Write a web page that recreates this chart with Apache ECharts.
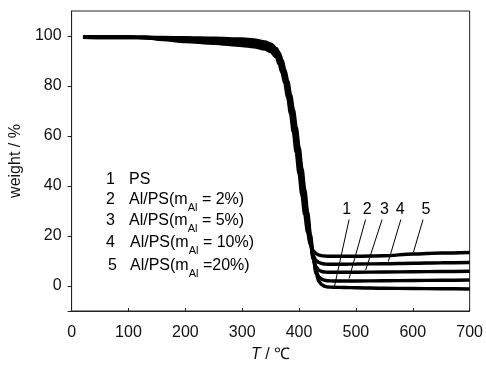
<!DOCTYPE html>
<html>
<head>
<meta charset="utf-8">
<script src="https://cdn.jsdelivr.net/npm/echarts@6/dist/echarts.min.js"></script>
<style>
html,body{margin:0;padding:0;background:#fff;}
#main{width:486px;height:368px;}
</style>
</head>
<body>
<div id="main"></div>
<script>
// Temperatures (°C)
var temps = [20, 60, 100, 130, 160, 200, 250, 300, 320, 340, 350, 360, 365, 370, 375, 380, 385, 390, 395, 400, 405, 410, 415, 420, 425, 430, 435, 440, 445, 450, 460, 480, 500, 550, 600, 650, 700];
// weight / % for each sample
var ps      = [99.6, 99.6, 99.6, 99.5, 99.4, 99.3, 99.1, 98.8, 98.4, 97.6, 96.8, 95.0, 93.2, 90.4, 86.5, 82.0, 76.5, 70.5, 63.5, 55.5, 47.0, 38.5, 29.5, 20.5, 11.5, 5.0, 1.8, 0.5, -0.1, -0.4, -0.5, -0.6, -0.7, -0.9, -1.0, -1.1, -1.2];
var alps2   = [99.6, 99.6, 99.6, 99.5, 99.2, 98.9, 98.5, 98.0, 97.6, 96.9, 96.1, 94.3, 92.2, 89.1, 85.0, 80.3, 74.8, 68.6, 61.5, 53.3, 44.8, 36.3, 27.5, 19.0, 11.0, 5.8, 3.6, 2.7, 2.3, 2.1, 2.0, 2.0, 2.0, 2.1, 2.2, 2.3, 2.4];
var alps5   = [99.6, 99.5, 99.5, 99.4, 99.0, 98.5, 98.0, 97.3, 96.9, 96.1, 95.3, 93.5, 91.1, 87.8, 83.5, 78.6, 72.8, 66.5, 59.3, 51.0, 42.5, 34.0, 25.5, 17.5, 10.8, 7.6, 6.3, 5.8, 5.6, 5.5, 5.5, 5.5, 5.5, 5.6, 5.7, 5.8, 5.9];
var alps10  = [99.5, 99.4, 99.4, 99.3, 98.8, 98.1, 97.5, 96.7, 96.3, 95.4, 94.5, 92.6, 90.0, 86.6, 82.2, 77.0, 70.9, 64.0, 56.4, 48.0, 39.5, 31.2, 23.5, 16.8, 12.0, 10.2, 9.4, 9.0, 8.8, 8.7, 8.7, 8.7, 8.8, 8.9, 9.1, 9.3, 9.4];
var alps20  = [99.5, 99.4, 99.4, 99.3, 98.6, 97.8, 97.1, 96.2, 95.7, 94.8, 93.8, 91.6, 88.8, 85.4, 81.0, 75.5, 69.0, 61.5, 53.5, 45.0, 36.5, 28.5, 21.5, 16.5, 14.0, 12.9, 12.4, 12.1, 12.0, 11.9, 11.9, 11.9, 11.9, 12.1, 12.8, 13.2, 13.4];
var seriesNames = ['1', '2', '3', '4', '5'];
var yTicks = [-10, 0, 20, 40, 60, 80, 100];
var yLabels = [0, 20, 40, 60, 80, 100];
// curve number labels [T, weight]
var numLabelPos = [[484, 30.6], [520, 30.6], [550, 30.6], [578, 30.6], [623, 30.6]];
// leader lines [[T1, w1], [T2, w2]]
var leaders = [
  [[488, 26.6], [462, -0.4]],
  [[517, 26.6], [488, 3.0]],
  [[546, 26.6], [517, 6.3]],
  [[579, 26.6], [557, 9.8]],
  [[618, 26.6], [601, 13.4]]
];
var legendRows = [
  ['1', 'PS', ''],
  ['2', 'Al/PS(m', ' = 2%)'],
  ['3', 'Al/PS(m', ' = 5%)'],
  ['4', 'Al/PS(m', ' = 10%)'],
  ['5', 'Al/PS(m', ' =20%)']
];

var FONT = '"Liberation Sans", Arial, sans-serif';
var FS = 16;
var all = [ps, alps2, alps5, alps10, alps20];
var chart = echarts.init(document.getElementById('main'), null, {renderer: 'canvas'});

var series = all.map(function (vals, i) {
  return {
    name: seriesNames[i],
    type: 'line',
    data: temps.map(function (t, j) { return [t, vals[j]]; }),
    showSymbol: false,
    smooth: 0.3,
    smoothMonotone: 'x',
    lineStyle: {color: '#000', width: 3.5},
    z: 2
  };
});
series[0].markLine = {
  silent: true,
  symbol: ['none', 'none'],
  label: {show: false},
  lineStyle: {color: '#000', width: 1, type: 'solid'},
  data: leaders.map(function (l) { return [{coord: l[0]}, {coord: l[1]}]; })
};
series[0].markPoint = {
  silent: true,
  symbol: 'circle',
  symbolSize: 0,
  data: numLabelPos.map(function (p, i) { return {coord: p, name: seriesNames[i]}; }),
  label: {show: true, formatter: '{b}', color: '#000', fontSize: FS, fontFamily: FONT, position: 'inside'}
};

var rowY = [181, 201, 222, 244, 267];
var graphics = [];
legendRows.forEach(function (r, i) {
  graphics.push({
    type: 'text', left: 106 + (i === 4 ? 2 : 0), top: rowY[i] - 9,
    style: {text: r[0], font: FS + 'px ' + FONT, fill: '#000'}
  });
  var txt = r[2] ? '{a|' + r[1] + '}{s|Al}{a|' + r[2] + '}' : '{a|' + r[1] + '}';
  graphics.push({
    type: 'text', left: 129 + (i >= 3 ? 1 : 0), top: rowY[i] - 9,
    style: {
      text: txt,
      rich: {
        a: {font: FS + 'px ' + FONT, fill: '#000', lineHeight: 18, verticalAlign: 'top'},
        s: {font: '11px ' + FONT, fill: '#000', lineHeight: 18, padding: [10, 0, 0, 0], verticalAlign: 'top'}
      }
    }
  });
});

chart.setOption({
  animation: false,
  backgroundColor: '#fff',
  grid: {left: 67, right: 16, top: 11, bottom: 56, show: true, borderColor: '#222', borderWidth: 1, containLabel: false},
  xAxis: {
    type: 'value', min: 0, max: 700, interval: 100,
    name: '{i|T} / ℃', nameLocation: 'middle', nameGap: 36,
    nameTextStyle: {fontSize: FS, fontFamily: FONT, color: '#111', rich: {i: {fontStyle: 'italic', fontSize: FS, fontFamily: FONT, color: '#111'}}},
    axisLine: {onZero: false, lineStyle: {color: '#222', width: 1}},
    axisTick: {inside: true, length: 3, lineStyle: {color: '#222'}},
    axisLabel: {fontSize: FS, fontFamily: FONT, color: '#111', margin: 14},
    splitLine: {show: false}
  },
  yAxis: {
    type: 'value', min: -10, max: 110,
    name: 'weight / %', nameLocation: 'middle', nameGap: 40,
    nameTextStyle: {fontSize: FS, fontFamily: FONT, color: '#111'},
    axisLine: {show: true, onZero: false, lineStyle: {color: '#222', width: 1}},
    axisTick: {show: true, length: 4, customValues: yTicks, lineStyle: {color: '#222'}},
    axisLabel: {fontSize: FS, fontFamily: FONT, color: '#111', margin: 10, customValues: yLabels},
    splitLine: {show: false}
  },
  graphic: graphics,
  series: series
});
</script>
</body>
</html>
